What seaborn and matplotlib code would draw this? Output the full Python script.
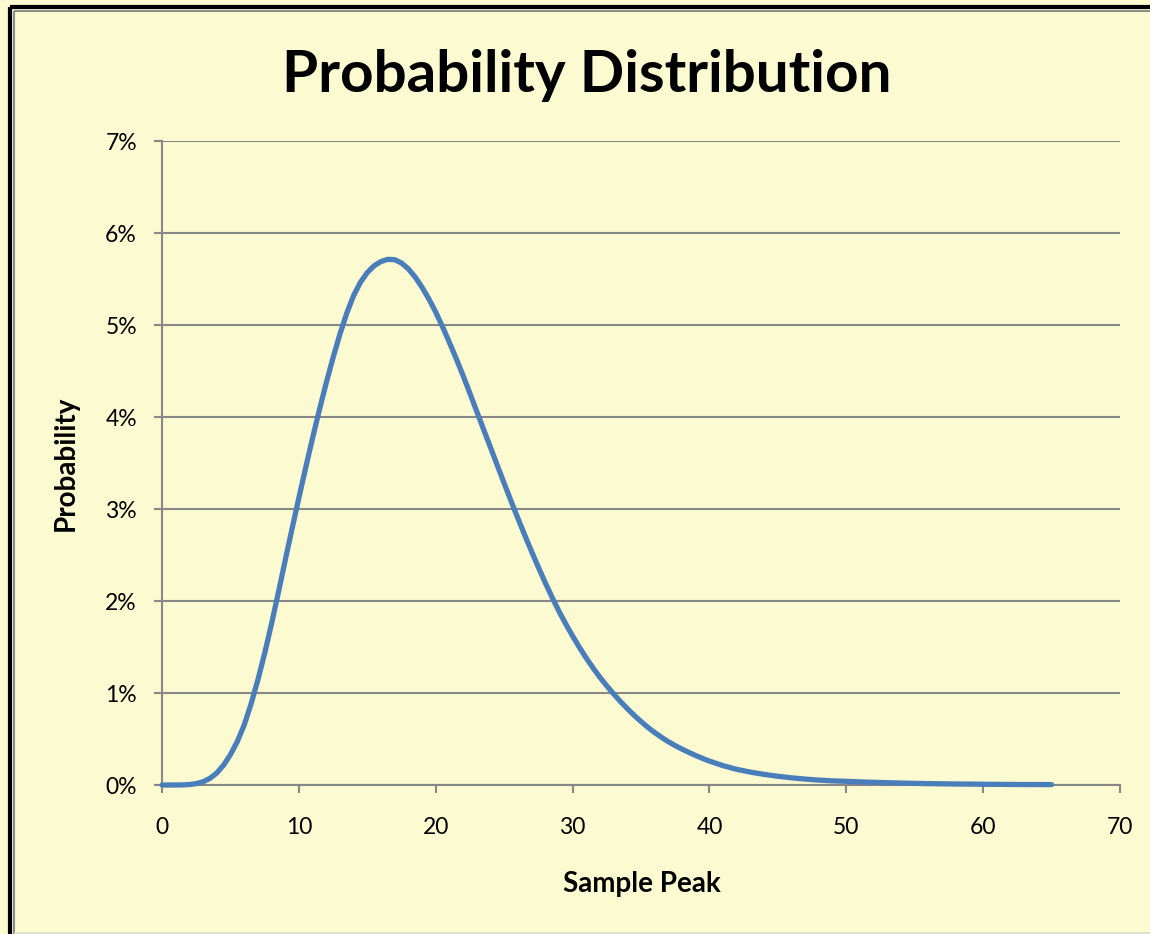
import matplotlib
matplotlib.use("Agg")
import matplotlib.pyplot as plt
import matplotlib.ticker as mticker
from matplotlib.lines import Line2D
import pandas as pd
import seaborn as sns

# Sample peak values (half-unit steps up to 40, whole units after)
sample_peak = [
    0, 0.5, 1, 1.5, 2, 2.5, 3, 3.5, 4, 4.5, 5, 5.5, 6, 6.5, 7, 7.5, 8, 8.5, 9, 9.5,
    10, 10.5, 11, 11.5, 12, 12.5, 13, 13.5, 14, 14.5, 15, 15.5, 16, 16.5, 17, 17.5,
    18, 18.5, 19, 19.5, 20, 20.5, 21, 21.5, 22, 22.5, 23, 23.5, 24, 24.5, 25, 25.5,
    26, 26.5, 27, 27.5, 28, 28.5, 29, 29.5, 30, 30.5, 31, 31.5, 32, 32.5, 33, 33.5,
    34, 34.5, 35, 35.5, 36, 36.5, 37, 37.5, 38, 38.5, 39, 39.5, 40,
    41, 42, 43, 44, 45, 46, 47, 48, 49, 50, 51, 52, 53, 54, 55, 56, 57, 58, 59,
    60, 61, 62, 63, 64, 65,
]
# Probability of each sample peak, in percent
probability = [
    0.000, 0.000, 0.000, 0.001, 0.005, 0.015, 0.035, 0.072, 0.130, 0.216,
    0.330, 0.472, 0.650, 0.877, 1.140, 1.430, 1.750, 2.090, 2.440, 2.783,
    3.120, 3.450, 3.770, 4.078, 4.370, 4.646, 4.900, 5.128, 5.320, 5.464,
    5.570, 5.644, 5.690, 5.714, 5.710, 5.674, 5.610, 5.521, 5.410, 5.283,
    5.140, 4.981, 4.810, 4.634, 4.450, 4.257, 4.060, 3.865, 3.670, 3.474,
    3.280, 3.088, 2.900, 2.718, 2.540, 2.367, 2.200, 2.041, 1.890, 1.751,
    1.620, 1.496, 1.380, 1.271, 1.170, 1.077, 0.990, 0.907, 0.830, 0.757,
    0.690, 0.627, 0.570, 0.518, 0.470, 0.428, 0.390, 0.354, 0.320, 0.289,
    0.260,
    0.210, 0.170, 0.140, 0.115, 0.095, 0.078, 0.064, 0.053, 0.045, 0.040,
    0.034, 0.029, 0.025, 0.021, 0.018, 0.015, 0.013, 0.011, 0.010,
    0.008, 0.007, 0.006, 0.005, 0.005, 0.004,
]
x_ticks = [0, 10, 20, 30, 40, 50, 60, 70]
y_ticks = [0, 1, 2, 3, 4, 5, 6, 7]

title_text = "Probability Distribution"
x_label = "Sample Peak"
y_label = "Probability"

BG = "#FCFAD0"
GRID = "#878787"
LINE = "#4A7EBB"

sns.set_theme(style="white")
plt.rcParams["font.family"] = ["Lato", "DejaVu Sans"]

df = pd.DataFrame({"peak": sample_peak, "prob": probability})

fig = plt.figure(figsize=(11.5, 9.34), dpi=100, facecolor=BG)
ax = fig.add_axes([162 / 1150, 1 - 785 / 934, (1120 - 162) / 1150, (785 - 141) / 934])
ax.set_facecolor(BG)

sns.lineplot(data=df, x="peak", y="prob", ax=ax, color=LINE, linewidth=3.8,
             zorder=5, clip_on=False, solid_capstyle="round", solid_joinstyle="round")

ax.set_xlim(0, 70)
ax.set_ylim(0, 7)
ax.set_xticks(x_ticks)
ax.set_yticks(y_ticks)
ax.yaxis.set_major_formatter(mticker.FuncFormatter(lambda v, _: f"{v:.0f}%"))

ax.grid(False)
ax.yaxis.grid(True, color=GRID, linewidth=1.5)
ax.set_axisbelow(True)

for side in ("top", "right"):
    ax.spines[side].set_visible(False)
for side in ("left", "bottom"):
    ax.spines[side].set_color(GRID)
    ax.spines[side].set_linewidth(1.5)

ax.tick_params(axis="both", which="major", direction="out", length=6, width=1.5,
               color=GRID, labelsize=16.5, labelcolor="black")
ax.tick_params(axis="x", pad=17, bottom=True)
ax.tick_params(axis="y", pad=12, left=True)

ax.set_xlabel("")
ax.set_ylabel("")

fig.text(587 / 1150, 1 - 92 / 934, title_text, ha="center", va="baseline",
         fontsize=42, fontweight="bold", color="black")
fig.text(642 / 1150, 1 - 892 / 934, x_label, ha="center", va="baseline",
         fontsize=20, fontweight="bold", color="black")
fig.text(66 / 1150, 1 - 463 / 934, y_label, ha="center", va="center",
         rotation=90, fontsize=20, fontweight="bold", color="black")

# Chart frame: heavy dark outer rule with a thin grey inner rule
W, H = 1150, 934
frame = [
    ([10 / W, 10 / W], [0, 1 - 7 / H], "black", 3),
    ([10 / W, 1], [1 - 7 / H, 1 - 7 / H], "black", 3),
    ([14 / W, 14 / W], [0, 1 - 11 / H], "#8C8C8C", 1.5),
    ([14 / W, 1], [1 - 11 / H, 1 - 11 / H], "#8C8C8C", 1.5),
    ([14 / W, 1], [1.5 / H, 1.5 / H], "#DCDCD0", 1.2),
]
for xs, ys, c, lw in frame:
    fig.add_artist(Line2D(xs, ys, color=c, linewidth=lw,
                          transform=fig.transFigure, solid_capstyle="butt"))

fig.savefig("out.png", dpi=100, facecolor=BG)
